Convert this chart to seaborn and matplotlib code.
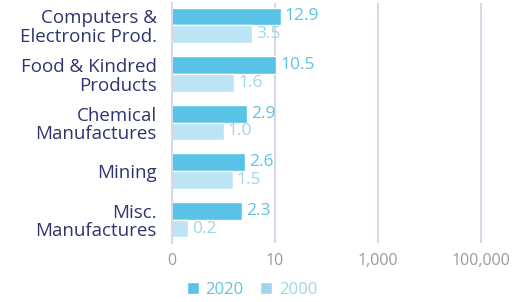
import pandas as pd
import matplotlib
matplotlib.use("Agg")
import matplotlib.pyplot as plt
import seaborn as sns
from matplotlib.ticker import FixedLocator, FixedFormatter, NullLocator
from matplotlib.patches import Patch

# Data
categories = ["Computers &\nElectronic Prod.", "Food & Kindred\nProducts",
              "Chemical\nManufactures", "Mining", "Misc.\nManufactures"]
values_2020 = [12.9, 10.5, 2.9, 2.6, 2.3]
values_2000 = [3.5, 1.6, 1.0, 1.5, 0.2]
years = ["2020", "2000"]
tick_values = [0.1, 10, 1000, 100000]
tick_labels = ["0", "10", "1,000", "100,000"]

bar_colors = {"2020": "#58c3e6", "2000": "#bce4f4"}
label_colors = {"2020": "#5ec3e6", "2000": "#9fd6ee"}
navy = "#2e356e"
grid_color = "#d9d7e8"

df = pd.DataFrame({
    "category": categories * 2,
    "year": ["2020"] * len(categories) + ["2000"] * len(categories),
    "value": values_2020 + values_2000,
})

sns.set_style("white")
plt.rcParams["font.family"] = ["Open Sans", "DejaVu Sans"]

fig = plt.figure(figsize=(5.2, 3.02), dpi=100)
ax = fig.add_axes([172 / 520, 1 - 243 / 302, 338 / 520, 240 / 302])

sns.barplot(data=df, y="category", x="value", hue="year", hue_order=years,
            palette=bar_colors, orient="h", width=0.73, gap=0,
            saturation=1, ax=ax, legend=False)

ax.set_xscale("log")
ax.set_xlim(0.1, 10 ** 5.56)
ax.set_ylim(4.48, -0.46)

ax.xaxis.set_major_locator(FixedLocator(tick_values))
ax.xaxis.set_major_formatter(FixedFormatter(tick_labels))
ax.xaxis.set_minor_locator(NullLocator())
ax.tick_params(axis="x", length=0, pad=7, labelsize=11.5, labelcolor="#9b9b9b")
ax.tick_params(axis="y", length=0, pad=11, labelsize=13.5, labelcolor=navy)
for t in ax.get_yticklabels():
    t.set_linespacing(1.05)

ax.grid(axis="x", color=grid_color, linewidth=1.5)
ax.grid(axis="y", visible=False)
ax.set_axisbelow(True)
for side in ["top", "right", "bottom"]:
    ax.spines[side].set_visible(False)
ax.spines["left"].set_color(grid_color)
ax.spines["left"].set_linewidth(1.5)
ax.set_xlabel("")
ax.set_ylabel("")

for container, yr in zip(ax.containers, years):
    ax.bar_label(container, fmt="%.1f", padding=3, fontsize=12.5,
                 color=label_colors[yr])

handles = [Patch(facecolor=bar_colors["2020"]), Patch(facecolor="#9fd6ee")]
leg = fig.legend(handles, years, loc="center", bbox_to_anchor=(0.485, 0.04),
                 ncol=2, frameon=False, handlelength=0.7, handleheight=0.7,
                 handletextpad=0.4, columnspacing=1.0, fontsize=12)
for txt, yr in zip(leg.get_texts(), years):
    txt.set_color(label_colors[yr])

fig.savefig("out.png", dpi=100)
